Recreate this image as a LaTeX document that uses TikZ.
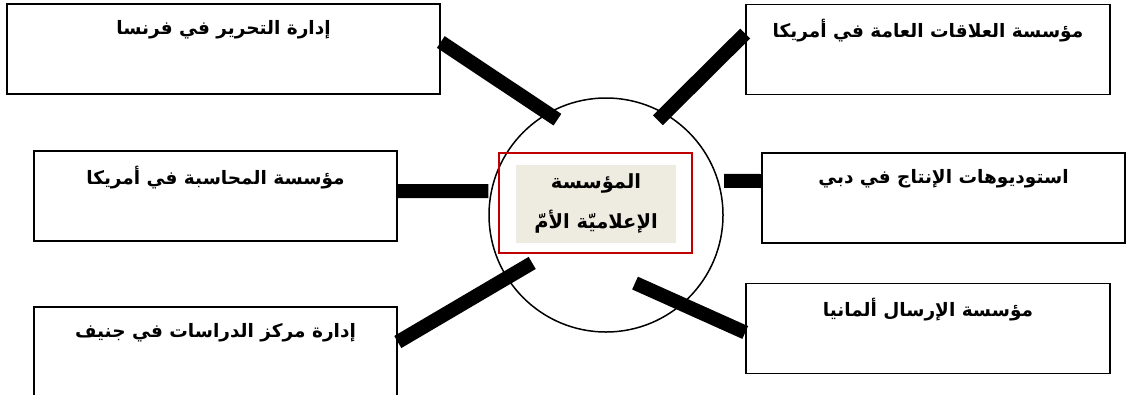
\documentclass[tikz,border=0pt]{standalone}
\usepackage{fontspec}
\usepackage{tikz}
\usetikzlibrary{calc}
\newfontfamily\arabicfont[Script=Arabic]{DejaVu Sans}
\TeXXeTstate=1
\definecolor{framered}{HTML}{C00000}
\definecolor{corefill}{HTML}{EEECE1}
\tikzstyle{deptbox}=[draw, line width=1.6pt, rectangle, inner sep=0pt, minimum height=90pt]
\tikzstyle{depttext}=[font=\arabicfont\bfseries\fontsize{18.5}{22}\selectfont]
\tikzstyle{bar}=[line width=14pt]
% box with its title near the top
\newcommand{\dept}[4]{
	\node[deptbox, minimum width=#3pt] (#1) at #2 {};
	\node[depttext] (#1-txt) at ([yshift=-27pt]#1.north) {#4};
}

\begin{document}
\begin{tikzpicture}[x=1pt, y=-1pt]
	\useasboundingbox (0,0) rectangle (1126,394);
	\clip (0,0) rectangle (1126,394);
	\node[draw, circle, line width=1.5pt, minimum size=234pt, inner sep=0pt] (hub) at (606,215) {};
	\node[draw=framered, line width=1.4pt, minimum width=193pt, minimum height=100pt, inner sep=0pt] (frame) at (595.5,203) {};
	\node[fill=corefill, minimum width=160pt, minimum height=78pt, inner sep=0pt, align=center, font=\arabicfont\bfseries\fontsize{19.5}{40}\selectfont] (core) at (596,203.5) {\beginR المؤسسة\endR\\\beginR الإعلاميّة الأمّ\endR};
	\dept{paris}{(223.5,49)}{433}{\beginR إدارة التحرير في فرنسا\endR}
	\dept{acct}{(215.5,196)}{363}{\beginR مؤسسة المحاسبة في أمريكا\endR}
	\dept{geneva}{(215.5,352)}{363}{\beginR إدارة مركز الدراسات في جنيف\endR}
	\dept{pr}{(928,49.5)}{364}{\beginR مؤسسة العلاقات العامة في أمريكا\endR}
	\dept{dubai}{(943.5,198)}{363}{\beginR استوديوهات الإنتاج في دبي\endR}
	\dept{germany}{(928,328.5)}{364}{\beginR مؤسسة الإرسال ألمانيا\endR}
	% inner ends of the bars
	\path (hub.center) ++(117:107pt) coordinate (in-paris);
	\path (hub.center) ++(61.3:108pt) coordinate (in-pr);
	\path (hub.center) ++(168.5:120pt) coordinate (in-acct);
	\path (hub.center) ++(16.1:123pt) coordinate (in-dubai);
	\path (hub.center) ++(213:88pt) coordinate (in-geneva);
	\path (hub.center) ++(293.1:74pt) coordinate (in-germany);
	\draw[bar] ([yshift=7pt]paris.east) -- (in-paris);
	\draw[bar] ([yshift=16pt]pr.west) -- (in-pr);
	\draw[bar] ([yshift=5pt]acct.east) -- (in-acct);
	\draw[bar] ([yshift=17pt]dubai.west) -- (in-dubai);
	\draw[bar] ([yshift=10pt]geneva.east) -- (in-geneva);
	\draw[bar] ([yshift=-4pt]germany.west) -- (in-germany);
\end{tikzpicture}
\end{document}
